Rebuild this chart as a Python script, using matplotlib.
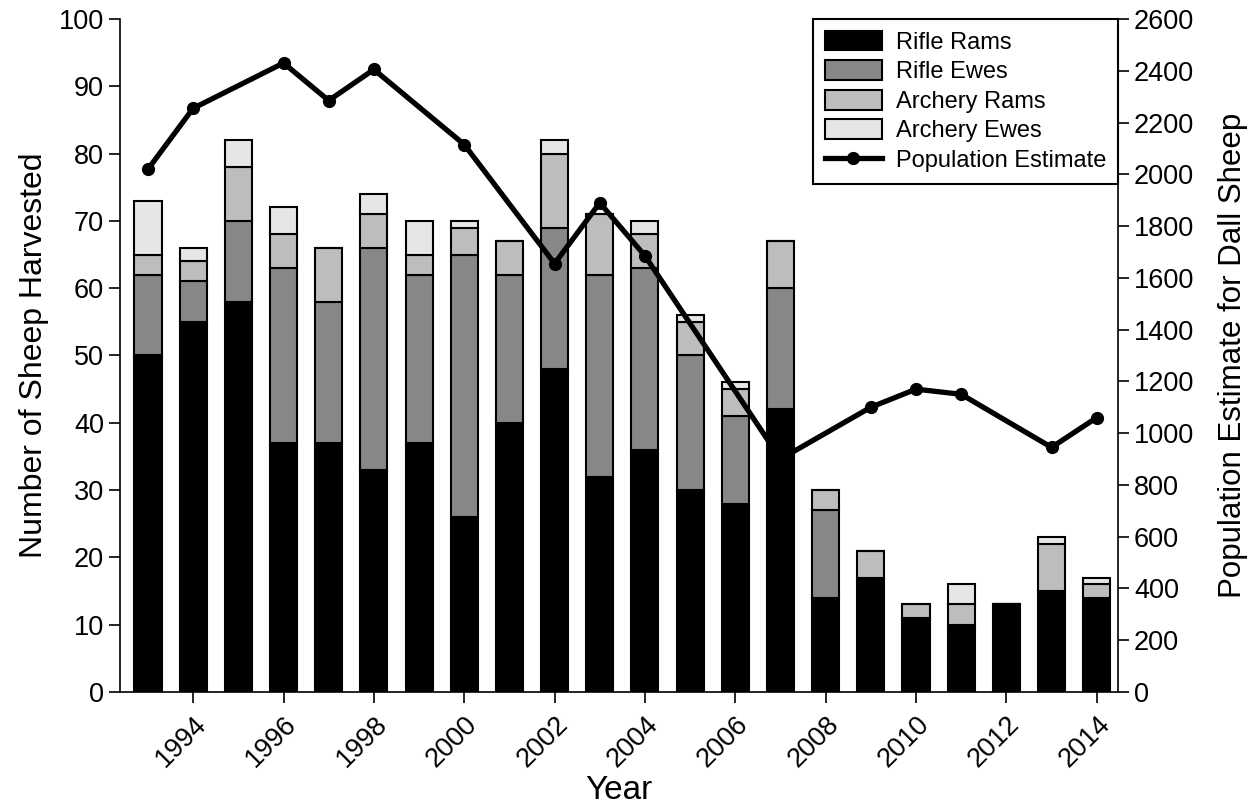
import matplotlib
matplotlib.use("Agg")
import matplotlib.pyplot as plt
from matplotlib.patches import Patch
from matplotlib.lines import Line2D

plt.rcParams['font.family'] = ['Liberation Sans', 'DejaVu Sans']

years = list(range(1993, 2015))
rifle_rams = [50, 55, 58, 37, 37, 33, 37, 26, 40, 48, 32, 36, 30, 28, 42, 14, 17, 11, 10, 13, 15, 14]
rifle_ewes = [12, 6, 12, 26, 21, 33, 25, 39, 22, 21, 30, 27, 20, 13, 18, 13, 0, 0, 0, 0, 0, 0]
archery_rams = [3, 3, 8, 5, 8, 5, 3, 4, 5, 11, 9, 5, 5, 4, 7, 3, 4, 2, 3, 0, 7, 2]
archery_ewes = [8, 2, 4, 4, 0, 3, 5, 1, 0, 2, 0, 2, 1, 1, 0, 0, 0, 0, 3, 0, 1, 1]

pop_years = [1993, 1994, 1996, 1997, 1998, 2000, 2002, 2003, 2004, 2007, 2009, 2010, 2011, 2013, 2014]
pop_est = [2020, 2255, 2430, 2285, 2405, 2115, 1655, 1890, 1685, 900, 1100, 1170, 1150, 945, 1060]

series_names = ['Rifle Rams', 'Rifle Ewes', 'Archery Rams', 'Archery Ewes']
series_colors = ['#000000', '#878787', '#bdbdbd', '#e6e6e6']
series_vals = [rifle_rams, rifle_ewes, archery_rams, archery_ewes]

fig = plt.figure(figsize=(12.55, 8.05), dpi=100)
ax = fig.add_axes([0.0956, 0.1404, 0.7952, 0.836])

bottom = [0] * len(years)
handles = []
for name, col, vals in zip(series_names, series_colors, series_vals):
    ax.bar(years, vals, width=0.6, bottom=bottom, color=col, edgecolor='black',
           linewidth=1.5, zorder=2)
    handles.append(Patch(facecolor=col, edgecolor='black', linewidth=1.5, label=name))
    bottom = [b + v for b, v in zip(bottom, vals)]

ax.set_xlim(1992.38, 2014.47)
ax.set_ylim(0, 100)
ax.set_yticks(range(0, 101, 10))
ax.set_xticks(range(1994, 2015, 2))
ax.set_xticklabels([str(y) for y in range(1994, 2015, 2)], rotation=45,
                   ha='right', rotation_mode='anchor')
ax.tick_params(axis='both', direction='out', length=8, width=1.2, labelsize=19.5, colors='black')
ax.tick_params(axis='x', pad=6)
ax.spines['top'].set_visible(False)
ax.spines['right'].set_visible(False)
for s in ['left', 'bottom']:
    ax.spines[s].set_linewidth(1.2)
ax.set_xlabel('Year', fontsize=24, labelpad=2)
ax.set_ylabel('Number of Sheep Harvested', fontsize=23, labelpad=7)

ax2 = ax.twinx()
ax2.plot(pop_years, pop_est, color='black', linewidth=3.8, marker='o', markersize=8.5, zorder=3)
ax2.set_ylim(0, 2600)
ax2.set_yticks(range(0, 2601, 200))
ax2.tick_params(axis='y', direction='out', length=8, width=1.2, labelsize=19.5, colors='black')
ax2.spines['top'].set_visible(False)
ax2.spines['left'].set_visible(False)
ax2.spines['bottom'].set_visible(False)
ax2.spines['right'].set_linewidth(1.2)
ax2.set_ylabel('Population Estimate for Dall Sheep', fontsize=22.5, labelpad=17)

handles.append(Line2D([], [], color='black', linewidth=3.8, marker='o', markersize=8.5,
                      label='Population Estimate'))
leg = ax2.legend(handles=handles, loc='upper right', bbox_to_anchor=(1.0, 1.0),
                 borderaxespad=0, fontsize=17, handlelength=2.4, handleheight=0.9,
                 handletextpad=0.6, labelspacing=0.28, borderpad=0.5,
                 fancybox=False, framealpha=1, edgecolor='black')
leg.get_frame().set_linewidth(1.5)

fig.savefig('out.png', dpi=100)
